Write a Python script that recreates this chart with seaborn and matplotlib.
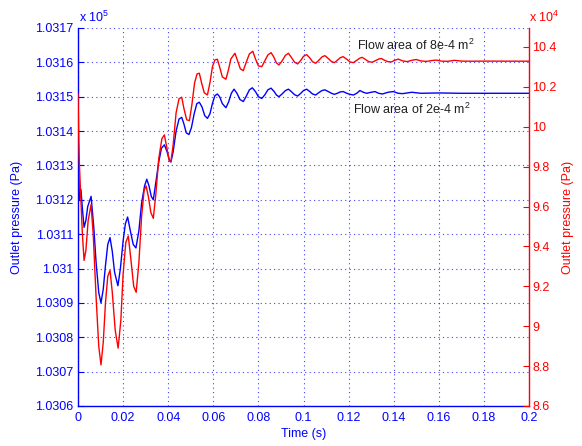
import numpy as np
import pandas as pd
import matplotlib
matplotlib.use("Agg")
import matplotlib.pyplot as plt
import seaborn as sns

# ---------------- data ----------------
t_blue = [0.0000, 0.0006, 0.0013, 0.0020, 0.0027, 0.0035, 0.0043, 0.0058, 0.0070, 0.0080,
          0.0092, 0.0102, 0.0112, 0.0122, 0.0132, 0.0142, 0.0152, 0.0162, 0.0177, 0.0188,
          0.0200, 0.0210, 0.0220, 0.0232, 0.0245, 0.0257, 0.0270, 0.0282, 0.0295, 0.0305,
          0.0315, 0.0325, 0.0334, 0.0345, 0.0358, 0.0370, 0.0383, 0.0395, 0.0405, 0.0412,
          0.0422, 0.0435, 0.0448, 0.0460, 0.0470, 0.0480, 0.0492, 0.0503, 0.0515, 0.0527,
          0.0538, 0.0550, 0.0562, 0.0574, 0.0585, 0.0596, 0.0607, 0.0618, 0.0628, 0.0640,
          0.0656, 0.0668, 0.0680, 0.0692, 0.0705, 0.0718, 0.0733, 0.0745, 0.0760, 0.0773,
          0.0787, 0.0800, 0.0815, 0.0828, 0.0842, 0.0856, 0.0870, 0.0880, 0.0891, 0.0905,
          0.0920, 0.0933, 0.0946, 0.0960, 0.0974, 0.0988, 0.1000, 0.1014, 0.1028, 0.1040,
          0.1054, 0.1068, 0.1082, 0.1095, 0.1110, 0.1124, 0.1137, 0.1150, 0.1163, 0.1176,
          0.1192, 0.1206, 0.1221, 0.1236, 0.1250, 0.1265, 0.1280, 0.1300, 0.1317, 0.1333,
          0.1350, 0.1375, 0.1398, 0.1420, 0.1440, 0.1480, 0.1520, 0.1600, 0.1700, 0.1800,
          0.1900, 0.2000]
p_blue = [103142, 103120, 103123, 103117, 103112, 103114, 103118, 103121, 103112, 103102,
          103093, 103090, 103094, 103101, 103107, 103109, 103105, 103099, 103095, 103100,
          103108, 103113, 103115, 103111, 103107, 103106, 103111, 103119, 103124, 103126,
          103124, 103121, 103120, 103125, 103131, 103135, 103136, 103134, 103131.5, 103131,
          103134, 103140, 103143.5, 103144, 103142, 103139.5, 103139, 103141, 103145, 103148,
          103148.4, 103147, 103144.5, 103143.7, 103145, 103148, 103150.3, 103150.8, 103150, 103148,
          103146.8, 103148.5, 103151, 103152.2, 103151, 103149.2, 103148.6, 103150, 103152, 103152.6,
          103151.5, 103150, 103149.5, 103150.5, 103152, 103152.5, 103151.5, 103150.5, 103150, 103150.8,
          103151.8, 103152.2, 103151.5, 103150.6, 103150.2, 103151, 103151.8, 103152.2, 103151.5, 103150.8,
          103150.5, 103151.2, 103151.8, 103152, 103151.5, 103151, 103150.7, 103151, 103151.4, 103151.5,
          103151, 103150.7, 103150.5, 103151, 103151.8, 103151.3, 103151, 103151.3, 103151.5, 103151,
          103150.8, 103151.3, 103151.5, 103151, 103150.9, 103151.3, 103151, 103151.1, 103151, 103151,
          103151, 103151]

t_red = [0.0000, 0.0005, 0.0012, 0.0020, 0.0027, 0.0035, 0.0045, 0.0058, 0.0068, 0.0080,
         0.0092, 0.0102, 0.0112, 0.0122, 0.0132, 0.0142, 0.0152, 0.0165, 0.0178, 0.0190,
         0.0200, 0.0212, 0.0223, 0.0235, 0.0247, 0.0258, 0.0270, 0.0282, 0.0293, 0.0302,
         0.0312, 0.0323, 0.0334, 0.0345, 0.0358, 0.0372, 0.0383, 0.0395, 0.0405, 0.0412,
         0.0422, 0.0435, 0.0448, 0.0460, 0.0470, 0.0482, 0.0494, 0.0505, 0.0517, 0.0528,
         0.0538, 0.0548, 0.0560, 0.0574, 0.0585, 0.0596, 0.0607, 0.0618, 0.0628, 0.0640,
         0.0656, 0.0666, 0.0678, 0.0696, 0.0708, 0.0720, 0.0733, 0.0745, 0.0760, 0.0775,
         0.0787, 0.0800, 0.0815, 0.0828, 0.0842, 0.0856, 0.0868, 0.0880, 0.0891, 0.0905,
         0.0920, 0.0933, 0.0946, 0.0960, 0.0974, 0.0988, 0.1000, 0.1014, 0.1028, 0.1040,
         0.1054, 0.1068, 0.1082, 0.1095, 0.1110, 0.1124, 0.1137, 0.1150, 0.1163, 0.1176,
         0.1192, 0.1206, 0.1221, 0.1236, 0.1250, 0.1260, 0.1275, 0.1290, 0.1305, 0.1320,
         0.1335, 0.1345, 0.1360, 0.1375, 0.1390, 0.1405, 0.1420, 0.1440, 0.1460, 0.1480,
         0.1500, 0.1520, 0.1545, 0.1570, 0.1590, 0.1610, 0.1640, 0.1670, 0.1700, 0.1750,
         0.1800, 0.1900, 0.2000]
p_red = [101644, 98500, 96500, 94500, 93300, 93800, 95300, 96100, 94500, 91500,
         89000, 88060, 89200, 91200, 92500, 92800, 91700, 89800, 88900, 90300,
         92600, 94200, 94525, 93300, 92000, 91700, 93200, 95500, 96800, 97030,
         96500, 95700, 95410, 96600, 98400, 99400, 99590, 98900, 98300, 98250,
         99100, 100700, 101400, 101480, 100900, 100350, 100306, 101100, 102200, 102650,
         102682, 102200, 101700, 101594, 102200, 103000, 103350, 103383, 103000, 102500,
         102381, 102800, 103400, 103684, 103300, 102900, 102812, 103200, 103650, 103784,
         103400, 103050, 103012, 103300, 103600, 103714, 103500, 103200, 103098, 103300,
         103580, 103684, 103480, 103240, 103148, 103330, 103530, 103614, 103450, 103260,
         103183, 103330, 103500, 103564, 103420, 103270, 103213, 103330, 103460, 103514,
         103380, 103250, 103213, 103330, 103440, 103480, 103370, 103260, 103235, 103320,
         103400, 103420, 103330, 103260, 103250, 103330, 103390, 103300, 103265, 103330,
         103370, 103300, 103275, 103320, 103340, 103290, 103280, 103330, 103290, 103285,
         103290, 103285, 103285]

x_ticks = [0, 0.02, 0.04, 0.06, 0.08, 0.1, 0.12, 0.14, 0.16, 0.18, 0.2]
x_tick_labels = ["0", "0.02", "0.04", "0.06", "0.08", "0.1", "0.12", "0.14", "0.16", "0.18", "0.2"]
left_ticks = [103060, 103070, 103080, 103090, 103100, 103110, 103120, 103130, 103140, 103150, 103160, 103170]
left_tick_labels = ["1.0306", "1.0307", "1.0308", "1.0309", "1.031", "1.0311", "1.0312",
                    "1.0313", "1.0314", "1.0315", "1.0316", "1.0317"]
right_ticks = [86000, 88000, 90000, 92000, 94000, 96000, 98000, 100000, 102000, 104000]
right_tick_labels = ["8.6", "8.8", "9", "9.2", "9.4", "9.6", "9.8", "10", "10.2", "10.4"]

label_8e4 = "Flow area of 8e-4 m$^2$"
label_2e4 = "Flow area of 2e-4 m$^2$"

# ---------------- style ----------------
sns.set_style("white")
plt.rcParams['font.family'] = ['Liberation Sans', 'DejaVu Sans']
plt.rcParams['mathtext.fontset'] = 'custom'
plt.rcParams['mathtext.rm'] = 'Liberation Sans'
plt.rcParams['mathtext.it'] = 'Liberation Sans:italic'
plt.rcParams['mathtext.bf'] = 'Liberation Sans:bold'

BLUE = '#0000ff'
RED = '#ff0000'
FS = 9

fig = plt.figure(figsize=(5.82, 4.46), dpi=100)
ax1 = fig.add_axes([78 / 582, 40 / 446, 451 / 582, 378 / 446])
ax2 = ax1.twinx()

df_blue = pd.DataFrame({"t": t_blue, "p": p_blue})
df_red = pd.DataFrame({"t": t_red, "p": p_red})

sns.lineplot(data=df_blue, x="t", y="p", ax=ax1, color=BLUE, lw=1.0, estimator=None)
sns.lineplot(data=df_red, x="t", y="p", ax=ax2, color=RED, lw=1.0, estimator=None)

ax1.set_xlim(0, 0.2)
ax1.set_ylim(103060, 103170)
ax2.set_ylim(86000, 104950)

ax1.set_xticks(x_ticks)
ax1.set_xticklabels(x_tick_labels)
ax1.set_yticks(left_ticks)
ax1.set_yticklabels(left_tick_labels)
ax2.set_yticks(right_ticks)
ax2.set_yticklabels(right_tick_labels)

ax1.grid(True, color=BLUE, linestyle=(0, (1, 3)), lw=0.8, alpha=0.75)
ax1.set_axisbelow(True)

for s in ['top', 'right']:
    ax1.spines[s].set_visible(False)
ax1.spines['left'].set_color(BLUE)
ax1.spines['bottom'].set_color(BLUE)
for s in ['top', 'left', 'bottom']:
    ax2.spines[s].set_visible(False)
ax2.spines['right'].set_color(RED)
for sp in list(ax1.spines.values()) + list(ax2.spines.values()):
    sp.set_linewidth(1.0)

ax1.tick_params(axis='x', direction='in', colors=BLUE, length=4, width=0.8,
                labelsize=FS, pad=4, top=False)
ax1.tick_params(axis='y', direction='in', colors=BLUE, length=4, width=0.8,
                labelsize=FS, pad=3.5, right=False)
ax2.tick_params(axis='y', direction='in', colors=RED, length=4, width=0.8,
                labelsize=FS, pad=2.5)

ax1.set_xlabel("Time (s)", color=BLUE, fontsize=FS)
ax1.xaxis.set_label_coords(0.5, -0.058)
ax1.set_ylabel("Outlet pressure (Pa)", color=BLUE, fontsize=FS)
ax1.yaxis.set_label_coords(-0.122, 0.5)
ax2.set_ylabel("Outlet pressure (Pa)", color=RED, fontsize=FS)
ax2.yaxis.set_label_coords(1.073, 0.5)

ax1.text(0.1236, 103163.6, label_8e4, fontsize=FS, color='#202020', va='baseline', ha='left')
ax1.text(0.1218, 103145.0, label_2e4, fontsize=FS, color='#202020', va='baseline', ha='left')

fig.text(79 / 582, 1 - 22 / 446, "x 10$^5$", color=BLUE, fontsize=FS, va='baseline', ha='left')
fig.text(529 / 582, 1 - 22 / 446, "x 10$^4$", color=RED, fontsize=FS, va='baseline', ha='left')

fig.savefig("out.png", dpi=100)
